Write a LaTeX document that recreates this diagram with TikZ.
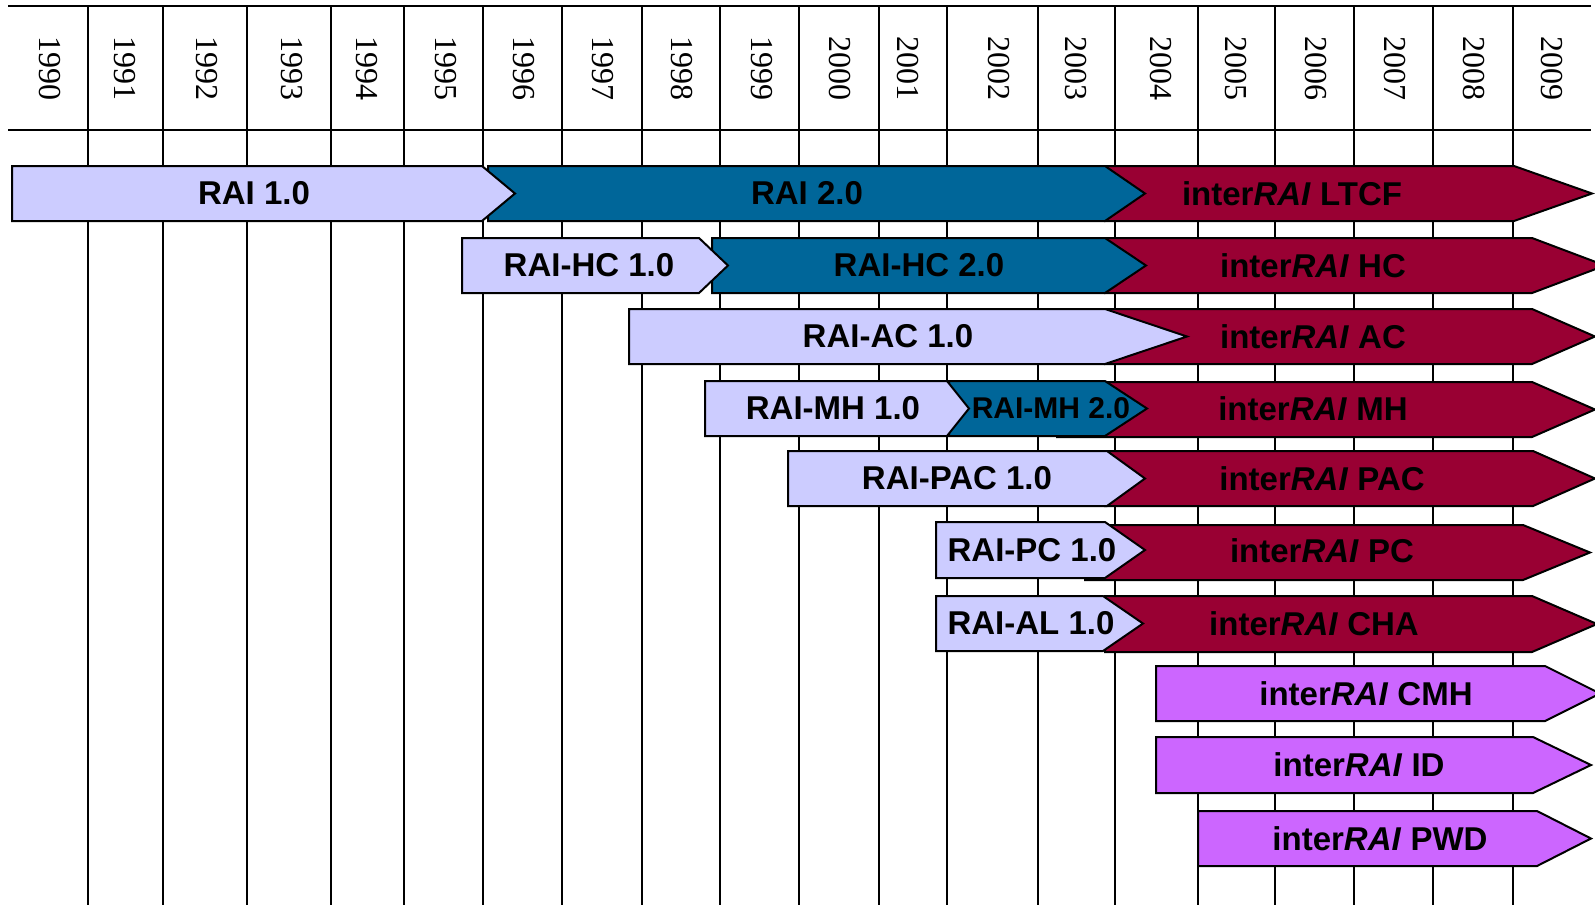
\documentclass[tikz,border=0pt]{standalone}
\usepackage{fontspec}
\setmainfont{Liberation Sans}
\newfontfamily\yearfont{Liberation Serif}
\definecolor{lav}{HTML}{CCCCFF}
\definecolor{raiblue}{HTML}{006699}
\definecolor{raired}{HTML}{990033}
\definecolor{raipurple}{HTML}{CC66FF}
\newcommand\chevbar[6]{\path[barshape,fill=#6] (#1,#4) -- (#2,#4) -- (#3,{(#4+#5)/2}) -- (#2,#5) -- (#1,#5) -- cycle;}
\newcommand\ir[1]{inter\textit{RAI} #1}
\begin{document}
\begin{tikzpicture}[x=1pt,y=-1pt,
  gridline/.style={line width=2.2pt,black},
  barshape/.style={draw=black,line width=2pt,line join=miter},
  lbl/.style={font=\fontsize{33}{38}\selectfont\bfseries,inner sep=0pt},
  lblsmall/.style={font=\fontsize{30}{34}\selectfont\bfseries,inner sep=0pt},
  yr/.style={font=\yearfont\fontsize{32}{36}\selectfont,rotate=-90,inner sep=0pt}]
\useasboundingbox (0,0) rectangle (1595,905);
\fill[white] (0,0) rectangle (1595,905);
% grid
\foreach \x in {88,163,247,331,404,483,562,642,720,799,879,947,1038,1115,1198,1275,1354,1433,1513}
  \draw[gridline] (\x,6) -- (\x,905);
\draw[gridline] (8,6) -- (1591,6);
\draw[gridline] (8,130) -- (1591,130);
% years
\foreach \x/\yy in {49.5/1990,125/1991,207/1992,292/1993,367/1994,446/1995,524/1996,603/1997,682/1998,762/1999,840/2000,908/2001,999/2002,1076/2003,1161/2004,1236/2005,1316/2006,1395/2007,1474/2008,1552/2009}
  \node[yr] (y\yy) at (\x,68.5) {\yy};
% row 1
\chevbar{1105}{1514}{1592}{166}{221}{raired}
\chevbar{488}{1105}{1145}{166}{221}{raiblue}
\chevbar{12}{482}{515}{166}{221}{lav}
% row 2
\chevbar{1105}{1532}{1605}{238}{293}{raired}
\chevbar{712}{1105}{1146}{238}{293}{raiblue}
\chevbar{462}{699}{728}{238}{293}{lav}
% row 3
\chevbar{1105}{1532}{1595}{309}{364}{raired}
\chevbar{629}{1105}{1187}{309}{364}{lav}
% row 4
\chevbar{1057}{1532}{1595}{382}{437}{raired}
\chevbar{949}{1105}{1147}{381}{436}{raiblue}
\chevbar{705}{947}{969}{381}{436}{lav}
% row 5
\chevbar{1105}{1533}{1595}{451}{506}{raired}
\chevbar{788}{1107}{1145}{451}{506}{lav}
% row 6
\chevbar{1085}{1523}{1590}{525}{580}{raired}
\chevbar{936}{1105}{1145}{522}{578}{lav}
% row 7
\chevbar{1105}{1532}{1597}{596}{652}{raired}
\chevbar{936}{1103}{1143}{596}{651}{lav}
% rows 8-10
\chevbar{1156}{1545}{1600}{666}{721}{raipurple}
\chevbar{1156}{1533}{1591}{737}{793}{raipurple}
\chevbar{1198}{1537}{1591}{811}{866}{raipurple}
% labels
\node[lbl] (rai1) at (254,193.5) {RAI 1.0};
\node[lbl] (rai2) at (807,193.5) {RAI 2.0};
\node[lbl] (ltcf) at (1292,193.5) {\ir{LTCF}};
\node[lbl] (hc1) at (589,265.5) {RAI-HC 1.0};
\node[lbl] (hc2) at (919,265.5) {RAI-HC 2.0};
\node[lbl] (hc) at (1313,265.5) {\ir{HC}};
\node[lbl] (ac1) at (888,336.5) {RAI-AC 1.0};
\node[lbl] (ac) at (1313,336.5) {\ir{AC}};
\node[lbl] (mh1) at (833,408.5) {RAI-MH 1.0};
\node[lblsmall] (mh2) at (1051,408.5) {RAI-MH 2.0};
\node[lbl] (mh) at (1313,408.5) {\ir{MH}};
\node[lbl] (pac1) at (957,478.5) {RAI-PAC 1.0};
\node[lbl] (pac) at (1322,478.5) {\ir{PAC}};
\node[lbl] (pc1) at (1032,550.5) {RAI-PC 1.0};
\node[lbl] (pc) at (1322,551) {\ir{PC}};
\node[lbl] (al1) at (1031,623.5) {RAI-AL 1.0};
\node[lbl] (cha) at (1314,624) {\ir{CHA}};
\node[lbl] (cmh) at (1366,693.5) {\ir{CMH}};
\node[lbl] (id) at (1359,765) {\ir{ID}};
\node[lbl] (pwd) at (1380,838.5) {\ir{PWD}};
\end{tikzpicture}
\end{document}
